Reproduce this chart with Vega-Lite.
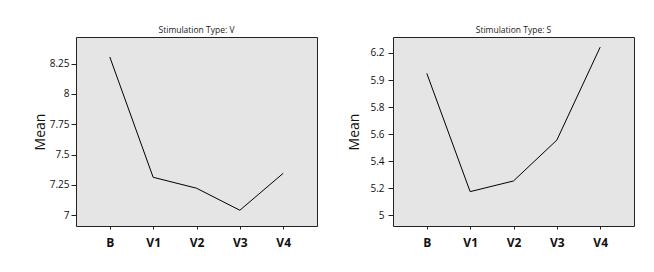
{
  "$schema": "https://vega.github.io/schema/vega-lite/v6.json",
  "autosize": {"type": "pad"},
  "padding": {"left": 32, "top": 25, "right": 0, "bottom": 0},
  "background": "white",
  "datasets": {
    "means": [
      {"panel": "V", "condition": "B", "mean": 8.305},
      {"panel": "V", "condition": "V1", "mean": 7.312},
      {"panel": "V", "condition": "V2", "mean": 7.222},
      {"panel": "V", "condition": "V3", "mean": 7.04},
      {"panel": "V", "condition": "V4", "mean": 7.345},
      {"panel": "S", "condition": "B", "mean": 6.049},
      {"panel": "S", "condition": "V1", "mean": 5.175},
      {"panel": "S", "condition": "V2", "mean": 5.254},
      {"panel": "S", "condition": "V3", "mean": 5.556},
      {"panel": "S", "condition": "V4", "mean": 6.243}
    ]
  },
  "spacing": 29,
  "hconcat": [
    {
      "data": {"name": "means"},
      "transform": [{"filter": "datum.panel === 'V'"}],
      "width": 241,
      "height": 189,
      "title": {"text": "Stimulation Type: V", "fontSize": 8.5, "fontWeight": "normal", "offset": 3, "color": "#222"},
      "mark": {"type": "line", "color": "black", "strokeWidth": 1},
      "encoding": {
        "x": {
          "field": "condition", "type": "ordinal",
          "sort": ["B", "V1", "V2", "V3", "V4"],
          "scale": {"type": "point", "padding": 0.78},
          "axis": {"title": null, "domain": false, "tickSize": 3, "labelPadding": 8, "labelAngle": 0, "labelFontSize": 12, "labelFontWeight": "bold"}
        },
        "y": {
          "field": "mean", "type": "quantitative",
          "scale": {"domain": [6.91, 8.47], "zero": false, "nice": false},
          "axis": {"title": "Mean", "values": [7, 7.25, 7.5, 7.75, 8, 8.25], "labelExpr": "'' + datum.value", "grid": false, "domain": false, "tickSize": 5, "labelPadding": 2, "labelFontSize": 10, "titlePadding": 2}
        }
      }
    },
    {
      "data": {"name": "means"},
      "transform": [{"filter": "datum.panel === 'S'"}],
      "width": 241,
      "height": 189,
      "title": {"text": "Stimulation Type: S", "fontSize": 8.5, "fontWeight": "normal", "offset": 3, "color": "#222"},
      "mark": {"type": "line", "color": "black", "strokeWidth": 1},
      "encoding": {
        "x": {
          "field": "condition", "type": "ordinal",
          "sort": ["B", "V1", "V2", "V3", "V4"],
          "scale": {"type": "point", "padding": 0.78},
          "axis": {"title": null, "domain": false, "tickSize": 3, "labelPadding": 8, "labelAngle": 0, "labelFontSize": 12, "labelFontWeight": "bold"}
        },
        "y": {
          "field": "mean", "type": "quantitative",
          "scale": {"domain": [4.921, 6.318], "zero": false, "nice": false},
          "axis": {"title": "Mean", "values": [5, 5.2, 5.4, 5.6, 5.8, 6, 6.2], "labelExpr": "datum.value == 6 ? '5.9' : '' + datum.value", "grid": false, "domain": false, "tickSize": 5, "labelPadding": 4, "labelFontSize": 10, "titlePadding": 8}
        }
      }
    }
  ],
  "config": {
    "font": "Open Sans",
    "view": {"fill": "#e5e5e5", "stroke": "#222", "strokeWidth": 1},
    "axis": {"labelColor": "#111", "titleColor": "#111", "tickColor": "#222", "titleFontSize": 14, "titleFontWeight": "normal", "labelFont": "Open Sans", "titleFont": "Open Sans"}
  }
}
